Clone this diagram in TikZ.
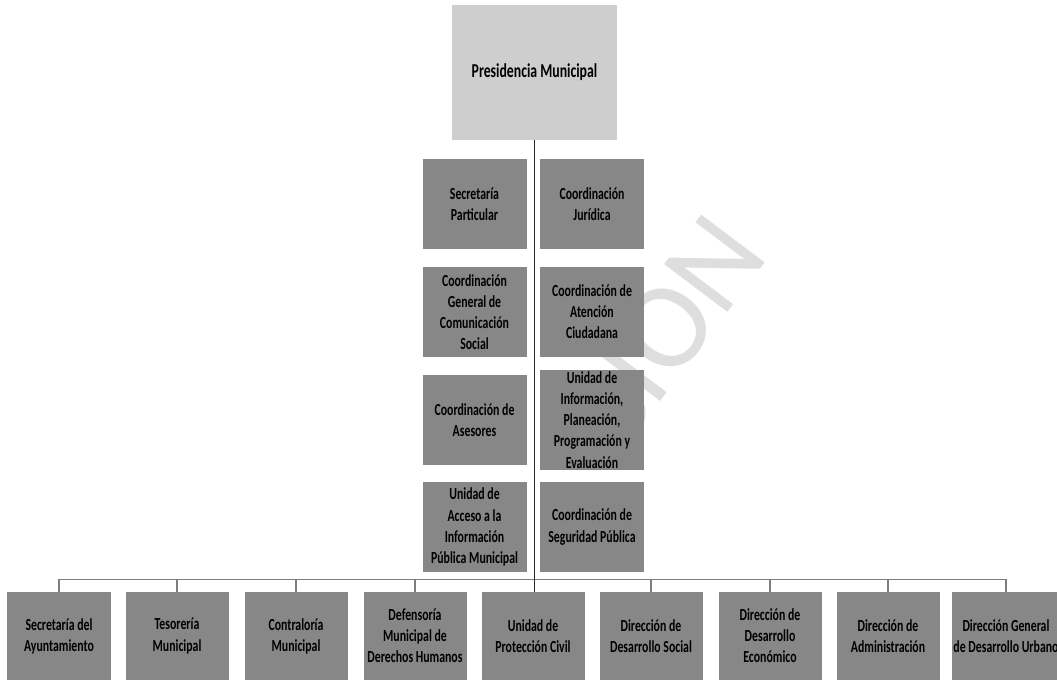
\documentclass[tikz,border=0pt]{standalone}
\usepackage{fontspec}
\setmainfont{Carlito}[FakeStretch=0.7]
\newfontfamily\markfont{Carlito}
\usetikzlibrary{positioning}
\definecolor{unitgray}{RGB}{135, 135, 135}
\definecolor{headgray}{RGB}{206, 206, 206}
\definecolor{linegray}{RGB}{125, 125, 125}
\definecolor{markgray}{RGB}{222, 222, 222}
\tikzset{
unittext/.style={
  align=center,
  font=\fontsize{12}{15}\selectfont\bfseries,
  text=black
},
headblock/.style={
  rectangle,
  fill=headgray,
  minimum width=41.25mm,
  minimum height=33.75mm,
  align=center,
  font=\fontsize{14}{16}\selectfont\bfseries
},
staffblock/.style={
  rectangle,
  fill=unitgray,
  minimum width=26mm,
  minimum height=22.5mm,
  inner sep=1pt,
  unittext
},
deptblock/.style={
  rectangle,
  fill=unitgray,
  minimum width=25.75mm,
  minimum height=22mm,
  inner sep=1pt,
  unittext
},
mainline/.style={
  draw=black!85,
  line width=1.3pt
},
busline/.style={
  draw=linegray,
  line width=0.9pt
}
}
\begin{document}
\begin{tikzpicture}[x=0.25mm, y=-0.25mm]

\fill[white] (0,0) rectangle (1057,680);
\useasboundingbox (0,0) rectangle (1057,680);

% ============================================================================
% Marca de agua
% ============================================================================
\node[font=\markfont\fontsize{88}{88}\selectfont, text=markgray, rotate=53]
  (marca) at (652, 328) {CIÓN};

% ============================================================================
% Presidencia
% ============================================================================
\node[headblock] (pres) at (534.5, 72) {Presidencia Municipal};

% ============================================================================
% Staff (columna izquierda)
% ============================================================================
\node[staffblock] (sec_part) at (474.5, 204) {Secretaría\\Particular};
\node[staffblock] (coord_com) at (474.5, 312) {Coordinación\\General de\\Comunicación\\Social};
\node[staffblock] (coord_ase) at (474.5, 420) {Coordinación de\\Asesores};
\node[staffblock] (unidad_acc) at (474.5, 527) {Unidad de\\Acceso a la\\Información\\Pública Municipal};

% ============================================================================
% Staff (columna derecha)
% ============================================================================
\node[staffblock] (coord_jur) at (592, 204) {Coordinación\\Jurídica};
\node[staffblock] (coord_ate) at (592, 312) {Coordinación de\\Atención\\Ciudadana};
\node[staffblock] (unidad_inf) at (592, 420) {Unidad de\\Información,\\Planeación,\\Programación y\\Evaluación};
\node[staffblock] (coord_seg) at (592, 527) {Coordinación de\\Seguridad Pública};

% ============================================================================
% Dependencias
% ============================================================================
\node[deptblock] (dep_ayto) at (59, 636) {Secretaría del\\Ayuntamiento};
\node[deptblock] (dep_tes) at (177, 636) {Tesorería\\Municipal};
\node[deptblock] (dep_con) at (296, 636) {Contraloría\\Municipal};
\node[deptblock] (dep_dh) at (415, 636) {Defensoría\\Municipal de\\Derechos Humanos};
\node[deptblock] (dep_pc) at (533, 636) {Unidad de\\Protección Civil};
\node[deptblock] (dep_soc) at (651, 636) {Dirección de\\Desarrollo Social};
\node[deptblock] (dep_eco) at (770, 636) {Dirección de\\Desarrollo\\Económico};
\node[deptblock] (dep_adm) at (888, 636) {Dirección de\\Administración};
\node[deptblock] (dep_urb) at (1006, 636) {Dirección General\\de Desarrollo Urbano};

% ============================================================================
% Líneas
% ============================================================================
\draw[busline] (dep_ayto.north) -- ++(0,-12) -| (dep_urb.north);
\draw[busline] (dep_tes.north) -- ++(0,-12);
\draw[busline] (dep_con.north) -- ++(0,-12);
\draw[busline] (dep_dh.north) -- ++(0,-12);
\draw[busline] (dep_soc.north) -- ++(0,-12);
\draw[busline] (dep_eco.north) -- ++(0,-12);
\draw[busline] (dep_adm.north) -- ++(0,-12);

\draw[mainline] (pres.south) -- (pres.south |- dep_pc.north);

\end{tikzpicture}
\end{document}
